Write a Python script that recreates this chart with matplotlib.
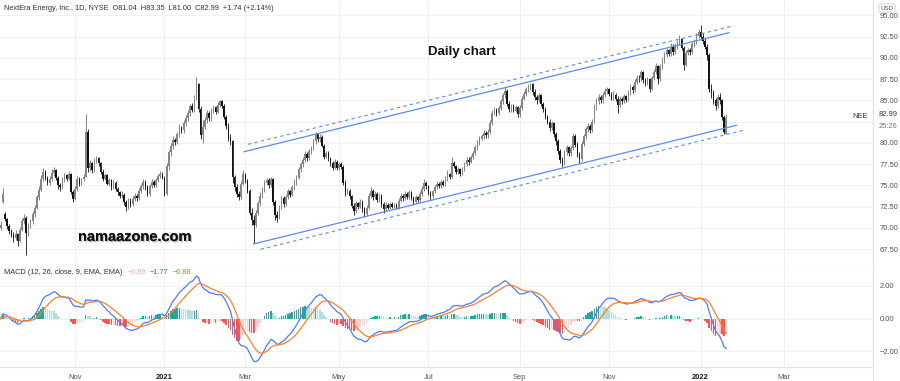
import numpy as np
import pandas as pd
import matplotlib
matplotlib.use("Agg")
import matplotlib.pyplot as plt
import matplotlib.patheffects as pe
from matplotlib.lines import Line2D

plt.rcParams['font.family'] = ['Liberation Sans', 'DejaVu Sans']

# NYSE holidays inside the visible range
holidays = ["2020-11-26", "2020-12-25", "2021-01-01", "2021-01-18", "2021-02-15",
            "2021-04-02", "2021-05-31", "2021-07-05", "2021-09-06", "2021-11-25",
            "2021-12-24", "2022-01-17", "2022-02-21", "2022-04-15"]
start_date = "2020-09-14"
end_date = "2022-04-29"

# daily closes (NEE, Sep 2020 -> Jan 2022)
closes = [
    70.4, 74.0, 71.0, 70.2, 69.6, 69.2, 68.8, 69.3, 68.5, 69.8,
    70.8, 71.2, 69.4, 70.3, 70.8, 71.6, 72.4, 73.6, 74.5, 75.8,
    76.6, 75.9, 75.3, 75.8, 76.5, 76.8, 75.9, 75.0, 74.8, 75.7,
    76.2, 75.8, 76.4, 74.2, 73.4, 74.6, 75.8, 75.2, 75.7, 76.0,
    81.3, 77.0, 77.6, 76.8, 77.9, 78.2, 77.6, 76.6, 75.8, 76.2,
    75.2, 75.6, 74.8, 75.3, 74.6, 74.2, 73.8, 73.9, 73.0, 72.5,
    73.2, 72.8, 73.4, 73.8, 73.5, 74.4, 74.9, 75.4, 74.8, 74.0,
    74.9, 75.4, 75.0, 75.6, 76.1, 76.4, 75.9, 74.0, 77.3, 78.9,
    79.6, 80.4, 80.1, 81.0, 81.8, 81.5, 82.4, 82.9, 83.5, 84.3,
    83.9, 85.4, 86.9, 84.0, 80.9, 81.9, 82.7, 83.5, 82.9, 83.8,
    84.2, 83.7, 84.5, 84.9, 84.4, 83.1, 82.0, 80.6, 80.2, 76.0,
    74.8, 74.0, 73.6, 75.2, 76.3, 75.6, 74.4, 71.8, 70.9, 70.4,
    71.8, 72.9, 73.8, 74.4, 75.3, 75.6, 75.0, 75.7, 73.0, 71.5,
    71.2, 72.4, 73.5, 72.8, 73.6, 74.3, 73.9, 74.8, 75.4, 75.9,
    76.9, 77.5, 78.0, 78.7, 78.2, 79.0, 79.4, 80.2, 81.0, 80.5,
    80.7, 79.7, 78.4, 78.8, 78.2, 77.6, 77.1, 77.8, 77.0, 77.5,
    77.2, 75.3, 74.2, 74.4, 73.7, 72.6, 72.0, 72.9, 72.5, 73.1,
    72.2, 71.6, 72.4, 73.8, 74.4, 73.6, 74.0, 73.3, 73.8, 72.8,
    72.2, 72.7, 72.4, 72.8, 72.5, 72.7, 72.4, 73.2, 73.8, 73.5,
    74.0, 73.6, 74.2, 73.5, 73.1, 73.6, 73.3, 74.0, 74.6, 75.3,
    74.9, 74.1, 73.7, 74.3, 74.8, 75.2, 74.9, 75.4, 75.1, 75.8,
    76.3, 76.0, 77.6, 77.3, 76.6, 76.9, 76.4, 76.9, 77.5, 78.0,
    77.8, 78.3, 78.8, 79.5, 80.1, 80.5, 80.8, 81.2, 80.9, 81.3,
    82.4, 83.5, 83.9, 83.5, 84.1, 84.9, 85.6, 86.1, 84.6, 84.0,
    84.3, 83.8, 84.2, 83.4, 84.1, 85.2, 85.8, 86.3, 86.6, 86.9,
    86.0, 85.4, 85.0, 85.6, 84.6, 84.0, 83.1, 82.5, 81.8, 82.3,
    81.0, 80.2, 79.1, 78.0, 77.6, 78.9, 79.5, 78.8, 79.4, 80.8,
    79.8, 78.6, 78.1, 79.9, 80.8, 81.6, 82.0, 81.5, 82.5, 84.2,
    84.9, 85.4, 85.0, 85.7, 86.1, 86.3, 85.8, 85.3, 85.7, 85.2,
    84.5, 85.2, 84.9, 85.5, 85.1, 85.9, 86.6, 86.2, 87.2, 87.7,
    87.6, 88.3, 87.4, 87.0, 87.5, 86.4, 87.6, 88.4, 89.0, 87.5,
    89.0, 89.7, 90.4, 90.9, 90.5, 91.3, 90.7, 91.4, 91.8, 92.2,
    91.2, 89.2, 90.6, 90.9, 90.7, 91.6, 91.9, 92.6, 93.1, 92.5,
    92.0, 91.3, 90.4, 86.4, 85.9, 85.0, 84.3, 85.4, 85.0, 83.0, 81.25, 82.99,
]
highs = [
    70.8, 74.7, 71.9, 71.2, 70.5, 69.9, 69.5, 69.7, 69.4, 70.1,
    71.2, 71.6, 71.4, 70.6, 71.1, 72.0, 72.7, 73.9, 74.9, 76.2,
    77.1, 76.8, 76.1, 76.1, 76.9, 77.2, 76.9, 76.1, 75.3, 76.0,
    76.5, 76.4, 76.7, 76.5, 74.5, 74.9, 76.1, 76.0, 75.9, 76.3,
    83.4, 81.6, 78.0, 77.8, 78.2, 78.5, 78.4, 77.8, 76.9, 76.5,
    76.4, 75.9, 75.8, 75.6, 75.5, 74.8, 74.4, 74.3, 74.1, 73.3,
    73.5, 73.5, 73.7, 74.1, 74.0, 74.7, 75.2, 75.7, 75.6, 75.0,
    75.2, 75.7, 75.6, 75.9, 76.4, 76.7, 76.6, 76.1, 77.6, 79.2,
    80.0, 80.8, 80.6, 81.3, 82.2, 82.0, 82.7, 83.3, 83.9, 84.6,
    84.7, 85.7, 87.8, 87.1, 84.3, 82.7, 83.1, 83.9, 83.8, 84.1,
    84.5, 84.4, 84.8, 85.1, 85.0, 84.6, 83.3, 82.3, 81.0, 80.4,
    76.2, 75.2, 74.4, 75.5, 76.8, 76.5, 75.8, 74.6, 72.4, 71.5,
    72.1, 73.2, 74.2, 74.8, 75.6, 75.9, 75.9, 76.0, 75.9, 73.3,
    72.0, 72.7, 73.8, 73.7, 73.9, 74.6, 74.5, 75.1, 75.7, 76.2,
    77.2, 77.8, 78.3, 79.0, 78.9, 79.3, 79.7, 80.5, 81.3, 81.2,
    81.0, 80.9, 79.9, 79.0, 79.0, 78.4, 77.9, 78.1, 78.0, 77.8,
    77.8, 77.4, 75.6, 74.7, 74.6, 73.9, 72.9, 73.2, 73.1, 73.4,
    73.3, 72.5, 72.7, 74.1, 74.8, 74.6, 74.3, 74.2, 74.1, 74.0,
    73.1, 73.0, 72.9, 73.0, 73.0, 72.9, 72.9, 73.5, 74.1, 74.0,
    74.3, 74.2, 74.5, 74.4, 73.7, 73.9, 73.8, 74.3, 74.9, 75.8,
    75.5, 75.1, 74.3, 74.5, 75.0, 75.5, 75.4, 75.6, 75.6, 76.1,
    76.8, 76.5, 78.4, 77.9, 77.4, 77.2, 77.1, 77.2, 77.8, 78.3,
    78.4, 78.6, 79.1, 79.8, 80.4, 80.8, 81.1, 81.5, 81.4, 81.6,
    82.7, 83.9, 84.2, 84.1, 84.4, 85.2, 85.9, 86.6, 86.3, 84.9,
    84.6, 84.6, 84.5, 84.4, 84.5, 85.5, 86.1, 86.6, 86.9, 87.1,
    87.0, 86.3, 85.7, 85.9, 85.8, 84.8, 84.2, 83.3, 82.8, 82.6,
    82.5, 81.3, 80.5, 79.3, 78.4, 79.2, 79.8, 79.7, 79.7, 81.2,
    81.0, 80.1, 78.9, 80.2, 81.1, 81.9, 82.3, 82.2, 82.8, 84.6,
    85.3, 85.8, 85.6, 86.0, 86.5, 86.6, 86.5, 86.0, 86.1, 85.9,
    85.5, 85.5, 85.4, 85.8, 85.7, 86.2, 86.9, 86.8, 87.5, 88.0,
    88.0, 88.6, 88.5, 87.7, 87.8, 87.7, 87.9, 88.7, 89.4, 89.2,
    89.3, 90.1, 90.7, 91.2, 91.1, 91.8, 91.6, 91.8, 92.1, 92.7,
    92.4, 91.4, 90.9, 91.2, 91.2, 91.9, 92.2, 92.9, 93.4, 93.9,
    92.9, 92.3, 91.6, 90.6, 86.9, 86.2, 85.3, 85.8, 85.9, 85.2, 83.3, 83.35,
]
lows = [
    69.7, 72.9, 70.8, 69.9, 69.3, 68.9, 68.4, 68.6, 67.9, 68.4,
    69.6, 70.5, 66.8, 69.1, 70.0, 70.5, 71.3, 72.2, 73.3, 74.3,
    75.5, 75.6, 75.0, 75.0, 75.5, 76.1, 75.6, 74.6, 74.4, 74.6,
    75.4, 75.5, 75.6, 74.0, 73.0, 73.3, 74.4, 74.9, 75.0, 75.5,
    76.0, 76.6, 76.7, 76.5, 76.6, 77.6, 77.3, 76.4, 75.5, 75.6,
    75.0, 74.9, 74.5, 74.6, 74.3, 73.9, 73.5, 73.5, 72.7, 72.0,
    72.2, 72.5, 72.6, 73.2, 73.2, 73.3, 74.1, 74.6, 74.5, 73.7,
    73.8, 74.7, 74.8, 74.8, 75.4, 75.9, 75.7, 73.7, 73.9, 76.8,
    78.5, 79.3, 79.8, 79.9, 80.7, 81.2, 81.2, 82.0, 82.6, 83.2,
    83.6, 83.7, 85.1, 83.7, 80.5, 80.0, 81.6, 82.4, 82.6, 82.6,
    83.5, 83.4, 83.5, 84.2, 84.1, 82.8, 81.7, 80.2, 79.8, 75.3,
    74.3, 73.6, 73.3, 73.4, 75.0, 75.3, 74.1, 71.5, 70.3, 68.2,
    70.1, 71.5, 72.6, 73.5, 74.2, 75.0, 74.7, 74.8, 72.7, 70.9,
    70.7, 71.0, 72.2, 72.5, 72.6, 73.4, 73.6, 73.7, 74.5, 75.1,
    75.7, 76.6, 77.2, 77.8, 77.9, 78.0, 78.7, 79.2, 79.9, 80.1,
    80.1, 79.5, 78.1, 78.2, 77.9, 77.3, 76.8, 76.9, 76.8, 76.8,
    76.9, 75.0, 73.8, 74.0, 73.4, 72.3, 71.5, 71.8, 72.2, 72.3,
    71.9, 71.3, 71.4, 72.2, 73.5, 73.3, 73.4, 73.1, 73.1, 72.5,
    71.8, 72.0, 72.2, 72.2, 72.3, 72.3, 72.2, 72.2, 73.0, 73.2,
    73.3, 73.4, 73.4, 73.3, 72.7, 72.9, 73.1, 73.1, 73.8, 74.4,
    74.6, 73.9, 73.3, 73.5, 74.1, 74.6, 74.7, 74.7, 74.9, 74.9,
    75.5, 75.8, 75.9, 77.0, 76.3, 76.4, 76.1, 76.2, 76.7, 77.3,
    77.4, 77.6, 78.1, 78.6, 79.2, 79.8, 80.3, 80.5, 80.6, 80.6,
    81.1, 82.1, 83.3, 83.2, 83.3, 83.9, 84.6, 85.3, 84.4, 83.6,
    83.7, 83.6, 83.6, 83.1, 83.1, 83.9, 85.0, 85.5, 86.0, 86.2,
    85.7, 85.1, 84.6, 84.8, 84.3, 83.7, 82.8, 82.2, 81.4, 81.5,
    80.7, 79.8, 78.7, 77.6, 77.2, 77.4, 78.6, 78.5, 78.5, 79.2,
    79.5, 78.3, 77.6, 77.9, 79.6, 80.5, 81.3, 81.2, 81.3, 82.3,
    83.9, 84.6, 84.7, 84.7, 85.4, 85.8, 85.5, 85.0, 85.0, 84.9,
    83.5, 84.2, 84.6, 84.7, 84.8, 84.9, 85.6, 85.9, 86.0, 86.9,
    87.2, 87.3, 87.1, 86.7, 86.8, 86.0, 86.2, 87.4, 88.1, 86.9,
    87.3, 88.7, 89.4, 90.1, 90.2, 90.2, 90.4, 90.5, 91.1, 91.5,
    90.9, 88.6, 89.0, 90.3, 90.4, 90.5, 91.3, 91.7, 92.3, 92.1,
    91.6, 91.0, 89.8, 86.0, 85.3, 84.6, 83.9, 84.1, 84.6, 82.7, 81.0, 81.0,
]
# opening gaps (all other bars open at the previous close)
gap_opens = {0: 70.0, 1: 73.0, 2: 71.6, 341: 81.04}

# drawn channel (bar index, price)
upper_x, upper_y = [114.4, 342.3], [78.97, 92.97]
lower_x, lower_y = [118.8, 345.9], [68.11, 82.08]
upper_dash_x, upper_dash_y = [116.2, 344.7], [79.84, 93.79]
lower_dash_x, lower_dash_y = [122.2, 349.7], [67.49, 81.52]

price_ticks = [67.5, 70.0, 72.5, 75.0, 77.5, 80.0, 82.5, 85.0, 87.5, 90.0, 92.5, 95.0]
hidden_price_ticks = [82.5]   # covered by the last-price label
macd_ticks = [-2.0, 0.0, 2.0]
macd_values = ["\u22120.89", "\u22121.77", "\u22120.88"]

# ---------------------------------------------------------------
dates = pd.bdate_range(start_date, end_date, freq="C", holidays=holidays)
c = np.array(closes)
h = np.array(highs)
l = np.array(lows)
n = len(c)
x = np.arange(n)
o = np.r_[c[0], c[:-1]]
for k, v in gap_opens.items():
    o[k] = v
h = np.maximum(h, np.maximum(o, c))
l = np.minimum(l, np.minimum(o, c))

close_s = pd.Series(c)
macd = close_s.ewm(span=12, adjust=False).mean() - close_s.ewm(span=26, adjust=False).mean()
signal = macd.ewm(span=9, adjust=False).mean()
hist = (macd - signal).values
dh = np.r_[0, np.diff(hist)]
hist_colors = np.where(hist >= 0,
                       np.where(dh >= 0, '#26a69a', '#b2dfdb'),
                       np.where(dh < 0, '#ff5252', '#ffcdd2'))

# month ticks: first trading day of every other month
pos = pd.Series(np.arange(len(dates)), index=dates)
firsts = pos.groupby([dates.year, dates.month]).first()
tick_pos, tick_lab, tick_year = [], [], []
for (yy, mm), p in firsts.items():
    if mm % 2 == 1 and 5 < p < 405:
        tick_pos.append(p)
        tick_year.append(mm == 1)
        tick_lab.append(str(yy) if mm == 1 else pd.Timestamp(yy, mm, 1).strftime('%b'))

W, H = 900, 381
fig = plt.figure(figsize=(9, 3.81), dpi=100)
ax = fig.add_axes([0, (H - 265) / H, 873 / W, 265 / H])
axm = fig.add_axes([0, (H - 367) / H, 873 / W, 102 / H])

grid_c = '#eff1f5'
edge_c = '#e0e3eb'
lab_c = '#50535e'
fs_axis = 5.4
fs_head = 5.3
xl = (-0.3, 410.0)

# candles
up = c >= o
body_c = np.where(up, '#858585', '#121212')
wick_c = np.where(up, '#707070', '#121212')
ax.vlines(x, l, h, colors=wick_c, linewidth=0.6, zorder=3)
ax.bar(x, np.maximum(np.abs(c - o), 0.06), bottom=np.minimum(o, c), width=0.7,
       color=body_c, linewidth=0, zorder=4)

ch_c = '#5d8af0'
ax.plot(upper_x, upper_y, color=ch_c, lw=0.9, zorder=5)
ax.plot(lower_x, lower_y, color=ch_c, lw=0.9, zorder=5)
ax.plot(upper_dash_x, upper_dash_y, color=ch_c, lw=0.8, ls=(0, (3, 3)), zorder=5)
ax.plot(lower_dash_x, lower_dash_y, color=ch_c, lw=0.8, ls=(0, (3, 3)), zorder=5)

ax.set_xlim(*xl)
ax.set_ylim(65.64, 96.82)
ax.set_yticks(price_ticks)
ax.set_yticklabels(["" if t in hidden_price_ticks else f"{t:.2f}" for t in price_ticks])
ax.set_xticks(tick_pos)
ax.tick_params(axis='x', length=0, labelbottom=False)
ax.yaxis.tick_right()
ax.tick_params(axis='y', length=0, pad=4.5, labelsize=fs_axis, labelcolor=lab_c)
ax.grid(True, color=grid_c, lw=0.7)
for s in ['top', 'left']:
    ax.spines[s].set_visible(False)
ax.spines['right'].set_color(edge_c)
ax.spines['bottom'].set_color(edge_c)

# MACD panel
axm.bar(x, hist, width=0.7, color=hist_colors, linewidth=0, zorder=3)
axm.plot(x, macd, color='#4c7df5', lw=0.9, zorder=4)
axm.plot(x, signal, color='#ff7f2a', lw=0.9, zorder=4)
axm.set_xlim(*xl)
axm.set_ylim(-2.95, 3.28)
axm.set_yticks(macd_ticks)
axm.set_yticklabels(["\u22122.00", "0.00", "2.00"])
axm.yaxis.tick_right()
axm.tick_params(axis='y', length=0, pad=4.5, labelsize=fs_axis, labelcolor=lab_c)
axm.set_xticks(tick_pos)
axm.set_xticklabels(tick_lab)
axm.tick_params(axis='x', length=0, pad=5, labelsize=fs_axis, labelcolor=lab_c)
for t, yr in zip(axm.get_xticklabels(), tick_year):
    if yr:
        t.set_fontweight('bold')
        t.set_color('#131722')
axm.grid(True, color=grid_c, lw=0.7)
for s in ['top', 'left']:
    axm.spines[s].set_visible(False)
axm.spines['right'].set_color(edge_c)
axm.spines['bottom'].set_color(edge_c)

fig.add_artist(Line2D([873 / W, 873 / W], [0, 1], color=edge_c, lw=0.8))


def fx(px):
    return px / W


def fy(py):
    return 1 - py / H


# header texts
chg = c[-1] - c[-2]
header = (f"NextEra Energy, Inc., 1D, NYSE  O{o[-1]:.2f}  H{h[-1]:.2f}  L{l[-1]:.2f}  "
          f"C{c[-1]:.2f}  {chg:+.2f} ({chg / c[-2] * 100:+.2f}%)")
fig.text(fx(4), fy(8), header, fontsize=fs_head, color='#333333', va='center')

renderer = fig.canvas.get_renderer()
mt = fig.text(fx(4), fy(273), "MACD (12, 26, close, 9, EMA, EMA)", fontsize=fs_head,
              color='#333333', va='center')
xpos = mt.get_window_extent(renderer).x1 + 5
for val, col in zip(macd_values, ['#f7a8b3', '#2962ff', '#ff6d00']):
    t = fig.text(xpos / W, fy(273), val, fontsize=fs_head, color=col, va='center')
    xpos = t.get_window_extent(renderer).x1 + 4

fig.text(fx(462), fy(52), "Daily chart", fontsize=9.5, fontweight='bold',
         color='#111111', ha='center', va='center')
fig.text(fx(135), fy(237), "namaazone.com", fontsize=10.5, fontweight='bold',
         color='#111111', ha='center', va='center',
         path_effects=[pe.withSimplePatchShadow(offset=(1, -1), shadow_rgbFace='#888888', alpha=0.5),
                       pe.Normal()])

# last price markers
fig.text(fx(868), fy(116), "NEE", fontsize=fs_axis, color='#333333', ha='right', va='center')
fig.text(fx(879), fy(115), f"{c[-1]:.2f}", fontsize=fs_axis, color='#333333', va='center')
fig.text(fx(879), fy(126), "25:26", fontsize=fs_axis, color='#777777', va='center')
fig.text(fx(887), fy(8), "USD", fontsize=4.5, color='#555555', ha='center', va='center',
         bbox=dict(boxstyle='round,pad=0.25', fc='white', ec='#c9ccd3', lw=0.6), zorder=10)

fig.savefig("out.png", dpi=100)
